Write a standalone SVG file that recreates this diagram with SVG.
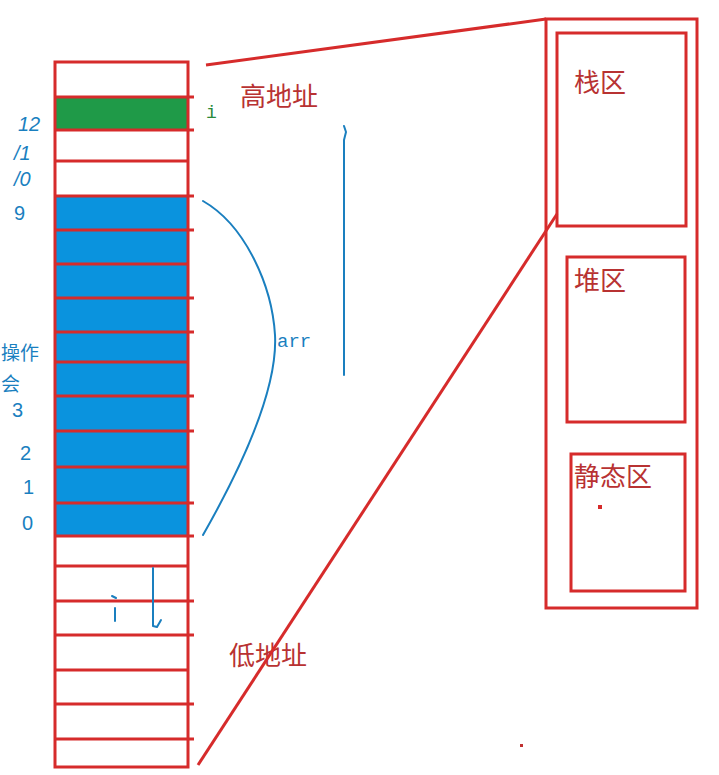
<svg xmlns="http://www.w3.org/2000/svg" width="719" height="775" viewBox="0 0 719 775">
<style>
.r{fill:none;stroke:#d62b2b;stroke-width:3}
.hl{stroke:#d62b2b;stroke-width:3}
.cn{font-family:"Noto Sans CJK SC",sans-serif;font-size:26px;fill:#b83232}
.bl{font-family:"Liberation Sans",sans-serif;font-size:20px;fill:#1a7fbf}
.hw{fill:none;stroke:#1a7fbf;stroke-width:2;stroke-linecap:round;stroke-linejoin:round}
</style>
<rect width="719" height="775" fill="#ffffff"/>
<g id="memory-column">
<rect x="55" y="97" width="133" height="33" fill="#1f9a48"/>
<rect x="55" y="196" width="133" height="340" fill="#0a93de"/>
<rect class="r" x="55" y="62" width="133" height="705"/>
<g class="hl">
<line x1="54" y1="97" x2="194" y2="97"/>
<line x1="54" y1="130" x2="194" y2="130"/>
<line x1="54" y1="161" x2="188" y2="161"/>
<line x1="54" y1="196" x2="194" y2="196"/>
<line x1="54" y1="230" x2="194" y2="230"/>
<line x1="54" y1="264" x2="188" y2="264"/>
<line x1="54" y1="298" x2="194" y2="298"/>
<line x1="54" y1="332" x2="194" y2="332"/>
<line x1="54" y1="362" x2="188" y2="362"/>
<line x1="54" y1="396" x2="194" y2="396"/>
<line x1="54" y1="431" x2="194" y2="431"/>
<line x1="54" y1="467" x2="188" y2="467"/>
<line x1="54" y1="503" x2="194" y2="503"/>
<line x1="54" y1="536" x2="194" y2="536"/>
<line x1="54" y1="566" x2="188" y2="566"/>
<line x1="54" y1="601" x2="194" y2="601"/>
<line x1="54" y1="635" x2="194" y2="635"/>
<line x1="54" y1="670" x2="188" y2="670"/>
<line x1="54" y1="704" x2="194" y2="704"/>
<line x1="54" y1="739" x2="194" y2="739"/>
</g>
</g>
<g id="index-labels">
<text class="bl" x="18" y="131" font-style="italic" font-size="22">12</text>
<text class="bl" x="14" y="160" font-style="italic" font-size="20">/1</text>
<text class="bl" x="14" y="186" font-style="italic" font-size="18">/0</text>
<text class="bl" x="14" y="220">9</text>
<text class="cn" x="1" y="360" style="fill:#1a7fbf;font-size:19px">操作</text>
<text class="cn" x="1" y="391" style="fill:#1a7fbf;font-size:19px">会</text>
<text class="bl" x="12" y="417">3</text>
<text class="bl" x="20" y="460">2</text>
<text class="bl" x="23" y="494">1</text>
<text class="bl" x="22" y="530">0</text>
</g>
<g id="labels">
<text x="206" y="118" font-family="Liberation Mono,monospace" font-size="18" fill="#2a8a3a">i</text>
<text class="cn" x="240" y="106">高地址</text>
<text class="cn" x="229" y="665">低地址</text>
<text x="277" y="347" font-family="Liberation Mono,monospace" font-size="19" fill="#1a7fbf">arr</text>
</g>
<g id="memory-regions">
<rect class="r" x="546" y="19" width="151" height="589"/>
<g id="stack"><rect class="r" x="557" y="33" width="129" height="193"/><text class="cn" x="574" y="92">栈区</text></g>
<g id="heap"><rect class="r" x="567" y="257" width="118" height="165"/><text class="cn" x="574" y="290">堆区</text></g>
<g id="static"><rect class="r" x="571" y="454" width="114" height="137"/><text class="cn" x="574" y="486">静态区</text><rect x="598" y="505" width="4" height="4" fill="#d62b2b"/></g>
</g>
<g id="connectors">
<line class="hl" x1="206" y1="65" x2="546" y2="19"/>
<line class="hl" x1="198" y1="765" x2="557" y2="214"/>
<path class="hw" d="M203,201 C245,225 272,285 275,335 C278,390 240,470 203,535"/>
<path class="hw" d="M344,126 L346,132 L344,140 M344,140 L344,375"/>
<path class="hw" d="M112,596 L116,598 M115,608 L115,621"/>
<path class="hw" d="M153,568 L153,626 L157,627 L161,620"/>
</g>
<rect x="520" y="744" width="3" height="3" fill="#c03030"/>
</svg>
